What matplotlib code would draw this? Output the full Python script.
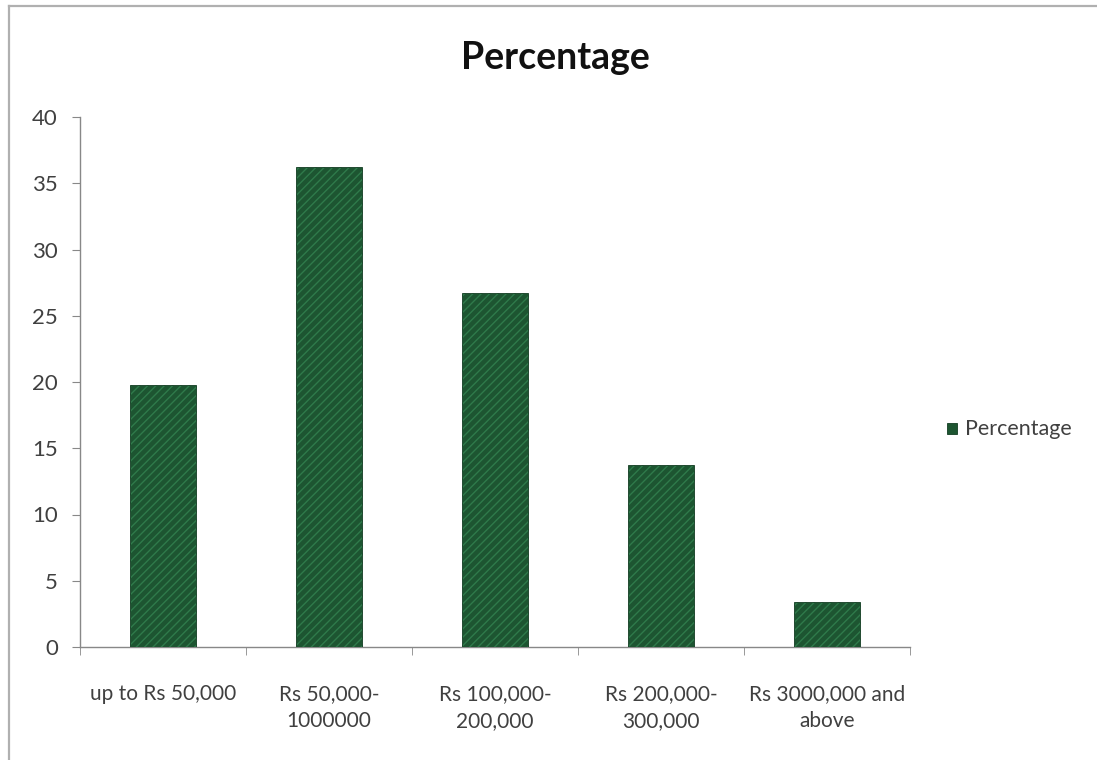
import matplotlib
matplotlib.use("Agg")
import matplotlib.pyplot as plt
from matplotlib.patches import Rectangle
from matplotlib.lines import Line2D
import numpy as np

categories = ["up to Rs 50,000", "Rs 50,000-\n1000000", "Rs 100,000-\n200,000",
              "Rs 200,000-\n300,000", "Rs 3000,000 and\nabove"]
values = [19.8, 36.2, 26.7, 13.7, 3.4]
yticks = [0, 5, 10, 15, 20, 25, 30, 35, 40]

plt.rcParams['font.family'] = ['Lato', 'DejaVu Sans']

W, H = 1097, 760
fig = plt.figure(figsize=(W / 100, H / 100), dpi=100)
fig.patch.set_facecolor('white')

# chart border (Excel chart frame): left and top edges visible
fx, fy = 9 / W, 1 - 6 / H
fig.lines.append(Line2D([fx, fx], [0, fy], transform=fig.transFigure, color='#b0b0b0', linewidth=1.6))
fig.lines.append(Line2D([fx, 1], [fy, fy], transform=fig.transFigure, color='#b0b0b0', linewidth=1.6))

ax = fig.add_axes([80 / W, 1 - 647 / H, (910 - 80) / W, (647 - 117) / H])
x = np.arange(len(categories))
bars = ax.bar(x, values, width=0.4, color='#1d5531', edgecolor='#123d22', linewidth=0.6,
              label='Percentage', zorder=3)
for b in bars:
    b.set_hatch('////')
    b._hatch_color = matplotlib.colors.to_rgba('#2f7a4a')

ax.set_xlim(-0.5, len(categories) - 0.5)
ax.set_ylim(0, 40)
ax.set_yticks(yticks)
ax.set_yticklabels([str(t) for t in yticks], fontsize=16, color='#404040')
ax.set_xticks(x)
ax.set_xticklabels(categories, fontsize=15, color='#404040', linespacing=1.4)
ax.set_xticks(np.arange(len(categories) + 1) - 0.5, minor=True)
ax.tick_params(axis='x', which='major', length=0, pad=27)
ax.tick_params(axis='x', which='minor', length=6, color='#888888', direction='out')
ax.tick_params(axis='y', length=6, color='#888888', direction='out', pad=10)
for s in ['top', 'right']:
    ax.spines[s].set_visible(False)
for s in ['left', 'bottom']:
    ax.spines[s].set_color('#888888')
    ax.spines[s].set_linewidth(1.0)

fig.text(555 / W, 1 - 58 / H, 'Percentage', ha='center', va='center', fontsize=27,
         fontweight='bold', color='#111111')

# legend
fig.patches.append(Rectangle((947 / W, 1 - 434 / H), 10 / W, 11 / H, transform=fig.transFigure,
                             facecolor='#1d5531', edgecolor='#123d22', linewidth=0.6))
fig.text(965 / W, 1 - 429 / H, 'Percentage', ha='left', va='center', fontsize=15.5, color='#404040')

fig.savefig('out.png', dpi=100, facecolor='white')
